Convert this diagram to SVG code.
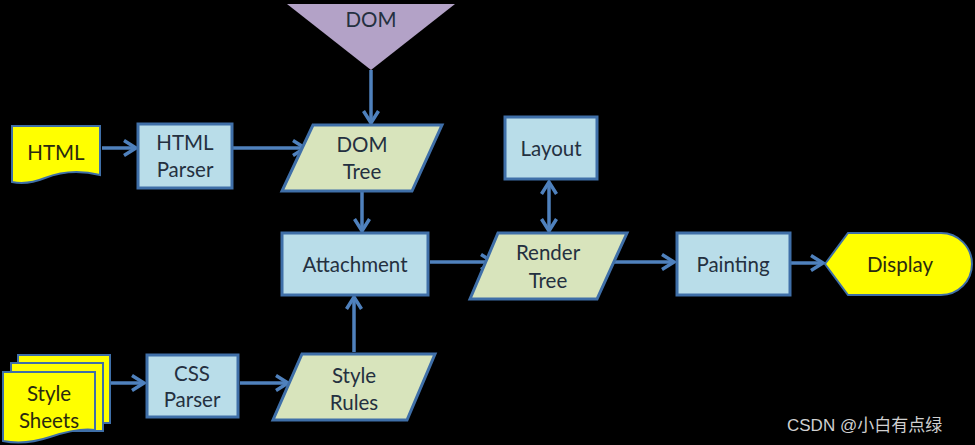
<svg xmlns="http://www.w3.org/2000/svg" width="975" height="445" viewBox="0 0 975 445">
<defs>
<style>
.box{fill:#b9dde9;stroke:#3f6fa8;stroke-width:3}
.para{fill:#d8e4bc;stroke:#3f6fa8;stroke-width:3}
.yel{fill:#ffff00;stroke:#3f6fa8;stroke-width:2}
.tri{fill:#b3a2c7;stroke:none}
.t{font-family:Lato,"Open Sans","Liberation Sans",sans-serif;font-size:20.5px;fill:#243040;text-anchor:middle}
.ty{font-family:Lato,"Open Sans","Liberation Sans",sans-serif;font-size:20.5px;fill:#2a2a10;text-anchor:middle}
.c{stroke:#4f81bd;stroke-width:3.5;fill:none}
</style>
<marker id="ah2" markerWidth="18" markerHeight="18" refX="14" refY="9" orient="auto-start-reverse" markerUnits="userSpaceOnUse" viewBox="0 0 18 18">
<path d="M2,1.5 L14,9 L2,16.5" fill="none" stroke="#4f81bd" stroke-width="3.5"/>
</marker>
</defs>
<rect width="975" height="445" fill="#000"/>
<g id="connectors">
<path class="c" d="M102,148 L136,148" marker-end="url(#ah2)"/>
<path class="c" d="M233,148 L305,148" marker-end="url(#ah2)"/>
<path class="c" d="M371,70 L371,123" marker-end="url(#ah2)"/>
<path class="c" d="M362,192 L362,231" marker-end="url(#ah2)"/>
<path class="c" d="M354,352 L354,297" marker-end="url(#ah2)"/>
<path class="c" d="M430,262 L493,262" marker-end="url(#ah2)"/>
<path class="c" d="M549,182 L549,231" marker-start="url(#ah2)" marker-end="url(#ah2)"/>
<path class="c" d="M614,262 L674,262" marker-end="url(#ah2)"/>
<path class="c" d="M791,263 L823,263" marker-end="url(#ah2)"/>
<path class="c" d="M111,383 L144,383" marker-end="url(#ah2)"/>
<path class="c" d="M240,383 L288,383" marker-end="url(#ah2)"/>
</g>
<g id="html">
<path class="yel" d="M12,126 L100,126 L100,175 C80,170 60,172 45,178 C35,182 22,184 12,182 Z"/>
<text class="ty" x="56" y="160">HTML</text>
</g>
<g id="html-parser">
<rect class="box" x="138" y="124" width="94" height="64"/>
<text class="t" x="185" y="150">HTML</text>
<text class="t" x="185" y="177">Parser</text>
</g>
<g id="dom">
<polygon class="tri" points="287,4 455,4 371,70"/>
<text class="t" x="371" y="27">DOM</text>
</g>
<g id="dom-tree">
<polygon class="para" points="313,125 442,125 412,191 282,191"/>
<text class="t" x="362" y="152">DOM</text>
<text class="t" x="362" y="179">Tree</text>
</g>
<g id="attachment">
<rect class="box" x="282" y="233" width="146" height="62"/>
<text class="t" x="355" y="272">Attachment</text>
</g>
<g id="layout">
<rect class="box" x="505" y="117" width="92" height="62"/>
<text class="t" x="551" y="156">Layout</text>
</g>
<g id="render-tree">
<polygon class="para" points="498,233 627,233 597,299 470,299"/>
<text class="t" x="548" y="260">Render</text>
<text class="t" x="548" y="288">Tree</text>
</g>
<g id="painting">
<rect class="box" x="677" y="233" width="113" height="62"/>
<text class="t" x="733" y="272">Painting</text>
</g>
<g id="display">
<path class="yel" d="M825,264 L848,233 L941,233 A31,31 0 0 1 941,295 L848,295 Z"/>
<text class="ty" x="900" y="272">Display</text>
</g>
<g id="style-sheets">
<rect class="yel" x="18" y="355" width="92" height="68"/>
<rect class="yel" x="11" y="363" width="92" height="68"/>
<path class="yel" d="M3,372 L95,372 L95,430 C80,428 65,432 50,437 C35,442 18,444 3,441 Z"/>
<text class="ty" x="49" y="401">Style</text>
<text class="ty" x="49" y="428">Sheets</text>
</g>
<g id="css-parser">
<rect class="box" x="147" y="355" width="91" height="62"/>
<text class="t" x="192" y="381">CSS</text>
<text class="t" x="192" y="407">Parser</text>
</g>
<g id="style-rules">
<polygon class="para" points="302,354 435,354 407,420 273,420"/>
<text class="t" x="354" y="383">Style</text>
<text class="t" x="354" y="410">Rules</text>
</g>
<text x="787" y="431" font-family="'Liberation Sans','Noto Sans CJK SC',sans-serif" font-size="17" fill="#d0d0d0">CSDN @小白有点绿</text>
</svg>
